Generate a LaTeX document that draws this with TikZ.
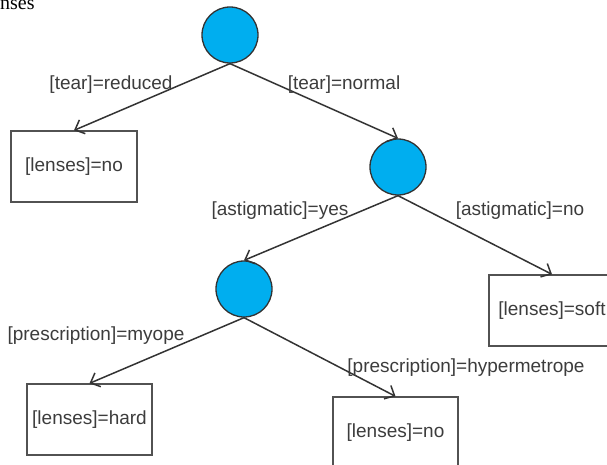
\documentclass[tikz,border=0pt]{standalone}
\usepackage{fontspec}
\setmainfont{Liberation Sans}
\newfontfamily\seriffont{Liberation Serif}
\usetikzlibrary{arrows.meta}
\definecolor{nodeblue}{RGB}{0,174,239}
\definecolor{edgegray}{RGB}{51,51,51}
\definecolor{textgray}{RGB}{60,60,60}
\tikzset{
  splitnode/.style={circle, draw=edgegray, line width=1.3pt, fill=nodeblue, minimum size=56pt, inner sep=0pt},
  leafbox/.style={draw=edgegray!85, line width=1.3pt, minimum width=126pt, minimum height=71pt, inner sep=0pt, text=textgray, font=\fontsize{19}{22}\selectfont},
  edgelabel/.style={text=textgray, font=\fontsize{19}{22}\selectfont, inner sep=0pt},
  treeedge/.style={draw=edgegray, line width=1.5pt, -{Straight Barb[length=8pt,width=15pt,line width=1.5pt]}}
}
\begin{document}
\begin{tikzpicture}[x=1pt,y=-1pt]
\clip (0,0) rectangle (607,465);
\node[anchor=base west, inner sep=0pt, font=\seriffont\fontsize{20}{22}\selectfont] (title) at (0,10) {nses};

\node[splitnode] (tear) at (230,35) {};
\node[splitnode] (astig) at (398,167) {};
\node[splitnode] (presc) at (244,289) {};

\node[leafbox] (no1) at (74,166.5) {[lenses]=no};
\node[leafbox] (soft) at (552,310.5) {[lenses]=soft};
\node[leafbox, minimum width=125pt] (hard) at (89.5,419.5) {[lenses]=hard};
\node[leafbox, minimum width=125pt] (no2) at (395.5,432.5) {[lenses]=no};

\draw[treeedge] (tear.south) -- (no1.north);
\draw[treeedge] (tear.south) -- (astig.north);
\draw[treeedge] (astig.south) -- (presc.north);
\draw[treeedge] (astig.south) -- (soft.north);
\draw[treeedge] (presc.south) -- (hard.north);
\draw[treeedge] (presc.south) -- (no2.north);

\node[edgelabel] (l1) at (111,85) {[tear]=reduced};
\node[edgelabel] (l2) at (344,85) {[tear]=normal};
\node[edgelabel] (l3) at (280,211) {[astigmatic]=yes};
\node[edgelabel] (l4) at (520,211) {[astigmatic]=no};
\node[edgelabel] (l5) at (96,336) {[prescription]=myope};
\node[edgelabel] (l6) at (466,368) {[prescription]=hypermetrope};
\end{tikzpicture}
\end{document}
